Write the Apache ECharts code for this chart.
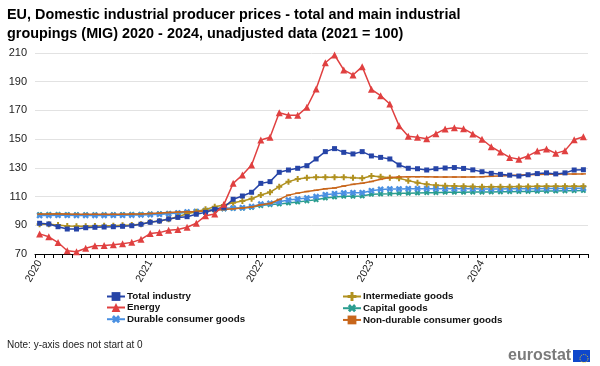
<!DOCTYPE html>
<html>
<head>
<meta charset="utf-8">
<script src="https://cdn.jsdelivr.net/npm/echarts@6/dist/echarts.min.js"></script>
<style>html,body{margin:0;padding:0;background:#fff}#c{width:600px;height:366px}</style>
</head>
<body>
<div id="c"></div>
<script>
var years = ['2020','2021','2022','2023','2024'];
var months = [];
years.forEach(function(y){ for (var m = 1; m <= 12; m++) months.push(y + '-' + (m < 10 ? '0' + m : m)); });

var yTicks = [70, 90, 110, 130, 150, 170, 190, 210];

var totalIndustry = [91.4, 90.9, 89.0, 87.4, 87.4, 88.3, 88.6, 88.8, 89.0, 89.3, 89.7, 90.7,
  92.1, 93.0, 94.4, 95.5, 96.0, 97.7, 99.0, 101.1, 102.5, 108.1, 110.4, 113.0,
  119.2, 120.4, 126.9, 128.5, 129.7, 131.5, 136.2, 141.3, 143.4, 140.8, 139.7, 141.3,
  138.3, 137.3, 136.2, 132.0, 129.7, 129.4, 128.5, 129.4, 129.9, 130.2, 129.6, 128.6,
  127.3, 126.2, 125.5, 124.9, 124.3, 125.2, 126.0, 126.5, 125.8, 126.5, 128.5, 128.7];

var energy = [84.0, 82.0, 78.0, 72.3, 71.6, 74.0, 75.8, 76.0, 76.5, 77.2, 78.1, 80.2,
  84.2, 84.9, 86.5, 87.0, 88.6, 91.4, 96.7, 97.9, 104.6, 119.2, 125.0, 132.0,
  149.4, 151.3, 168.4, 166.6, 166.6, 172.2, 185.0, 203.2, 208.6, 198.2, 194.7, 200.5,
  184.7, 180.3, 174.5, 159.4, 152.0, 151.3, 150.3, 153.8, 157.1, 158.0, 157.3, 153.6,
  149.9, 144.7, 141.0, 137.3, 136.0, 138.3, 141.7, 143.1, 140.1, 142.0, 149.6, 151.7];

var intermediateGoods = [90.7, 90.7, 90.2, 89.5, 89.3, 89.3, 89.5, 89.7, 89.7, 90.0, 90.2, 90.7,
  92.3, 93.0, 94.2, 96.0, 98.0, 99.5, 101.1, 102.9, 104.1, 105.7, 106.9, 108.5,
  111.1, 113.0, 116.9, 120.4, 122.2, 123.1, 123.4, 123.4, 123.4, 123.4, 123.1, 122.7,
  124.3, 123.8, 123.1, 122.7, 121.1, 119.7, 118.5, 117.8, 117.6, 117.4, 117.2, 117.0,
  116.9, 116.9, 116.9, 116.9, 117.0, 117.1, 117.2, 117.2, 117.2, 117.2, 117.2, 117.2];

var capitalGoods = [97.5, 97.6, 97.6, 97.5, 97.4, 97.4, 97.4, 97.4, 97.4, 97.5, 97.6, 97.7,
  97.9, 98.1, 98.3, 98.6, 99.0, 99.5, 100.0, 100.6, 101.4, 101.8, 102.0, 102.5,
  103.7, 104.4, 104.8, 105.5, 106.2, 107.0, 107.8, 109.0, 109.7, 110.2, 110.2, 110.4,
  111.6, 111.8, 112.0, 112.3, 112.3, 112.5, 112.7, 112.7, 113.0, 113.0, 113.0, 113.1,
  113.1, 113.2, 113.3, 113.4, 113.5, 113.6, 113.7, 113.8, 113.9, 114.0, 114.1, 114.2];

var durableGoods = [96.8, 96.9, 97.0, 97.0, 96.9, 96.9, 96.9, 96.9, 97.0, 97.0, 97.1, 97.2,
  97.4, 97.7, 98.0, 98.6, 99.3, 99.5, 100.2, 101.3, 101.8, 102.0, 102.2, 103.0,
  104.8, 105.3, 106.4, 107.6, 108.3, 109.0, 110.0, 111.3, 112.0, 112.5, 112.7, 112.7,
  114.1, 115.0, 115.3, 115.3, 115.5, 115.5, 115.5, 115.5, 115.4, 115.4, 115.4, 115.4,
  115.3, 115.3, 115.3, 115.4, 115.4, 115.5, 115.5, 115.6, 115.6, 115.7, 115.8, 115.8];

var nonDurableGoods = [97.8, 97.9, 98.0, 97.8, 97.6, 97.6, 97.6, 97.6, 97.6, 97.7, 97.8, 97.9,
  98.2, 98.5, 98.9, 99.3, 99.5, 99.6, 100.0, 100.5, 101.0, 101.5, 102.0, 102.8,
  104.3, 105.2, 108.0, 111.0, 112.4, 113.5, 114.4, 115.4, 116.0, 117.3, 118.5, 119.3,
  120.5, 122.0, 123.2, 123.7, 123.8, 123.8, 123.8, 123.7, 123.6, 123.6, 123.6, 123.7,
  123.8, 124.1, 124.4, 124.7, 125.0, 125.2, 125.4, 125.5, 125.6, 125.7, 125.7, 125.8];

var seriesNames = ['Total industry', 'Intermediate goods', 'Energy', 'Capital goods', 'Durable consumer goods', 'Non-durable consumer goods'];

var PLUS = 'path://M2,0L4,0L4,2L6,2L6,4L4,4L4,6L2,6L2,4L0,4L0,2L2,2Z';

function mk(name, data, color, symbol, size, rot, z) {
  return {
    name: name, type: 'line', data: data, symbol: symbol, symbolSize: size,
    symbolRotate: rot || 0, z: z,
    lineStyle: { color: color, width: 1.5 },
    itemStyle: { color: color },
    showSymbol: true, animation: false
  };
}

var FONT = 'Liberation Sans, Arial, sans-serif';
var legendText = { fontSize: 9.8, fontWeight: 'bold', color: '#111', lineHeight: 11, padding: [0, 0, 0, -3], fontFamily: FONT };

var chart = echarts.init(document.getElementById('c'), null, { renderer: 'canvas' });
chart.setOption({
  backgroundColor: '#fff',
  animation: false,
  textStyle: { fontFamily: FONT },
  title: {
    text: 'EU, Domestic industrial producer prices - total and main industrial\ngroupings (MIG) 2020 - 2024, unadjusted data (2021 = 100)',
    left: 7, top: 6, padding: 0,
    textStyle: { fontSize: 14.4, fontWeight: 'bold', color: '#000', lineHeight: 19, fontFamily: FONT }
  },
  grid: { left: 35, right: 12, top: 53, bottom: 112, containLabel: false },
  xAxis: {
    type: 'category', data: months, boundaryGap: true,
    axisLine: { lineStyle: { color: '#000', width: 1 } },
    axisTick: { show: true, interval: 0, length: 4, lineStyle: { color: '#000' } },
    axisLabel: {
      interval: 0, rotate: 60, fontSize: 10.5, color: '#222', margin: 7,
      formatter: function (v, i) { return (i % 12 === 0) ? v.slice(0, 4) : ''; }
    },
    splitLine: { show: false }
  },
  yAxis: {
    type: 'value', min: yTicks[0], max: yTicks[yTicks.length - 1], interval: 20,
    axisLine: { show: false }, axisTick: { show: false },
    axisLabel: { fontSize: 11, color: '#222', margin: 8 },
    splitLine: { lineStyle: { color: '#e2e2e2', width: 1 } }
  },
  legend: [
    {
      data: [seriesNames[0], seriesNames[2], seriesNames[4]],
      orient: 'vertical', left: 106, top: 291, padding: 0, itemGap: 0, itemWidth: 18, itemHeight: 11,
      textStyle: legendText
    },
    {
      data: [seriesNames[1], seriesNames[3], seriesNames[5]],
      orient: 'vertical', left: 342, top: 291, padding: 0, itemGap: 0, itemWidth: 18, itemHeight: 11,
      textStyle: legendText
    }
  ],
  series: [
    mk(seriesNames[0], totalIndustry, '#2644A7', 'rect', 5, 0, 6),
    mk(seriesNames[1], intermediateGoods, '#B09120', PLUS, 6, 0, 4),
    mk(seriesNames[2], energy, '#E04040', 'triangle', 7, 0, 7),
    mk(seriesNames[3], capitalGoods, '#2A9D8F', PLUS, 6, 45, 2),
    mk(seriesNames[4], durableGoods, '#4A90E2', PLUS, 7, 45, 3),
    mk(seriesNames[5], nonDurableGoods, '#C8661B', 'rect', [5, 1.5], 0, 5)
  ],
  graphic: [
    { type: 'text', left: 7, top: 340, style: { text: 'Note: y-axis does not start at 0', fontSize: 10, fill: '#222', fontFamily: FONT } },
    { type: 'text', left: 508, top: 348, style: { text: 'eurostat', fontSize: 16, fontWeight: 'bold', fill: '#7b7b7b', fontFamily: FONT } },
    { type: 'rect', left: 573, top: 350, shape: { width: 17, height: 12 }, style: { fill: '#0E47CB' } },
    { type: 'circle', left: 577.5, top: 352, shape: { r: 4 }, style: { fill: 'none', stroke: '#FFD617', lineWidth: 1, lineDash: [1, 1.2] } }
  ]
});
</script>
</body>
</html>
